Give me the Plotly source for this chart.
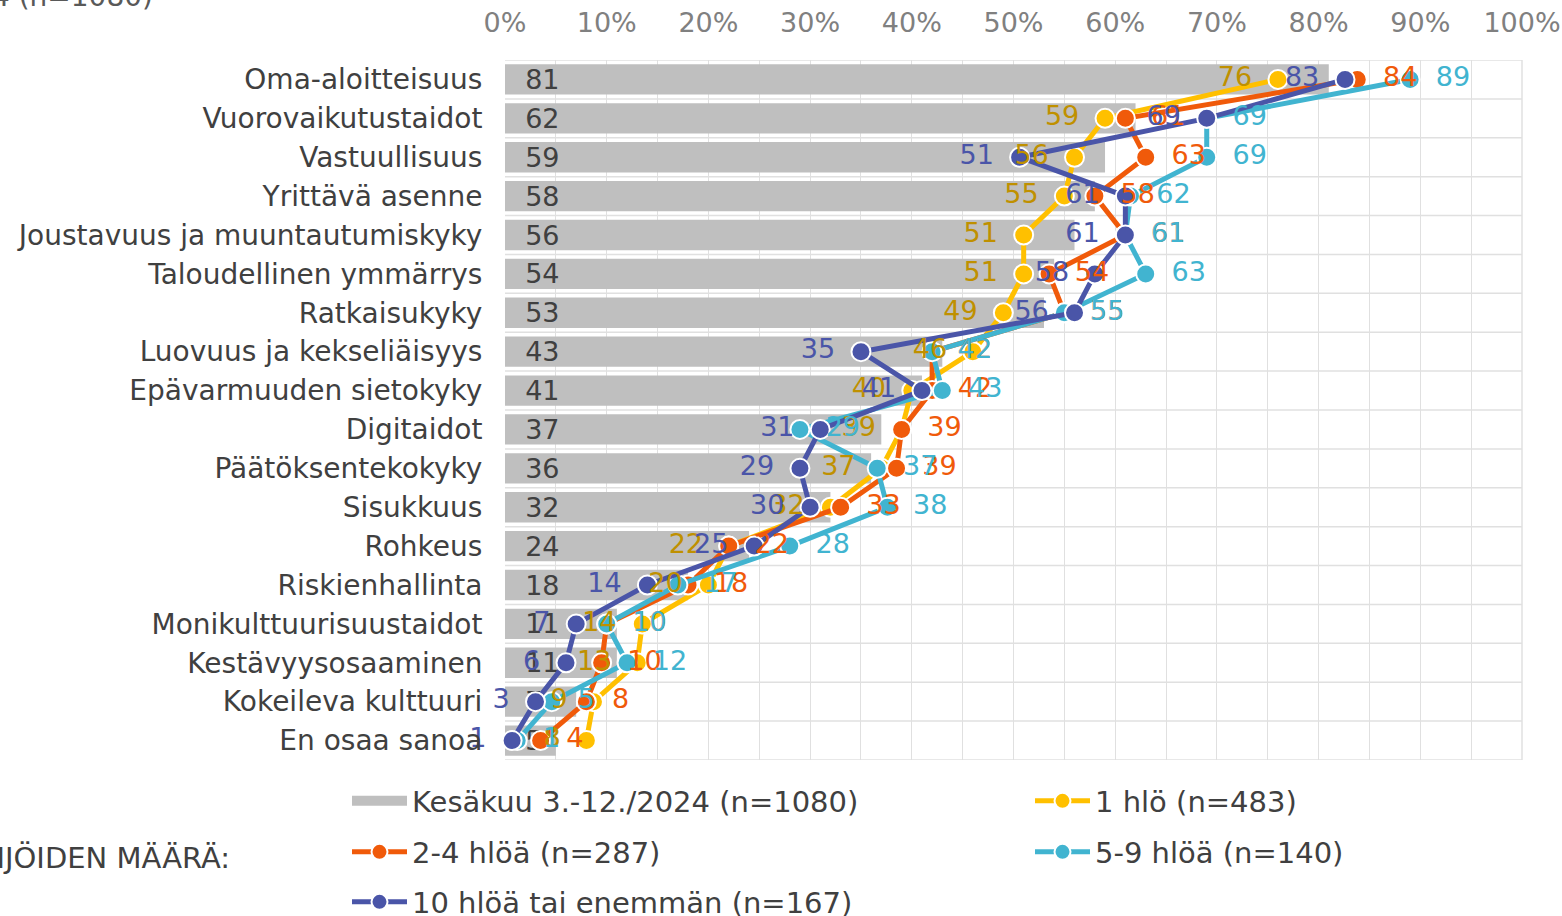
import plotly.graph_objects as go

categories = ["Oma-aloitteisuus", "Vuorovaikutustaidot", "Vastuullisuus", "Yrittävä asenne",
              "Joustavuus ja muuntautumiskyky", "Taloudellinen ymmärrys", "Ratkaisukyky",
              "Luovuus ja kekseliäisyys", "Epävarmuuden sietokyky", "Digitaidot",
              "Päätöksentekokyky", "Sisukkuus", "Rohkeus", "Riskienhallinta",
              "Monikulttuurisuustaidot", "Kestävyysosaaminen", "Kokeileva kulttuuri", "En osaa sanoa"]
total = [81, 62, 59, 58, 56, 54, 53, 43, 41, 37, 36, 32, 24, 18, 11, 11, 7, 5]
hlo1 = [76, 59, 56, 55, 51, 51, 49, 46, 40, 39, 37, 32, 22, 20, 13.5, 13, 8.7, 8]
hlo2_4 = [83.8, 61, 63, 58, 61, 53.5, 55, 42, 42, 39, 38.5, 33, 22, 18, 10, 9.5, 8, 3.5]
hlo5_9 = [89, 69, 69, 61.5, 61, 63, 55, 42, 43, 29, 36.6, 37.6, 28, 17, 10, 12, 4.6, 1.2]
hlo10 = [82.6, 69, 50.6, 61, 61, 58, 56, 35, 41, 31, 29, 30, 24.5, 14, 7, 6, 3, 0.7]

x_ticks = [0, 10, 20, 30, 40, 50, 60, 70, 80, 90, 100]
x_ticklabels = [f"{t}%" for t in x_ticks]

names = ["Kesäkuu 3.-12./2024 (n=1080)", "1 hlö (n=483)", "2-4 hlöä (n=287)",
         "5-9 hlöä (n=140)", "10 hlöä tai enemmän (n=167)"]

FONT = "DejaVu Sans"
FS = 27
NB = "\u00a0"
GRID = "#e0e0e0"

W, H = 1562, 916
PL, PR, PT, PB = 505, 1522, 60, 760  # plot area in page px


def lbl(v):
    return str(int(v + 0.5))


fig = go.Figure()
fig.add_trace(go.Bar(
    y=categories, x=total, orientation="h", name=names[0], showlegend=False,
    marker=dict(color="#bfbfbf", line=dict(width=0)),
    text=[NB * 2 + lbl(v) for v in total], textposition="inside", insidetextanchor="start",
    constraintext="none",
    textfont=dict(family=FONT, size=FS, color="#404040"), cliponaxis=False,
    hoverinfo="skip"))
# legend proxy for the bar series (rectangular swatch)
fig.add_trace(go.Scatter(
    x=[None], y=[None], mode="lines", name=names[0],
    line=dict(color="#bfbfbf", width=15), legend="legend"))

series = [
    (hlo1, names[1], "#FFC000", "#BF9000", "left", "legend2"),
    (hlo2_4, names[2], "#F05A0A", "#F05A0A", "right", "legend3"),
    (hlo5_9, names[3], "#41B4D0", "#41B4D0", "right", "legend4"),
    (hlo10, names[4], "#4A55A8", "#4A55A8", "left", "legend5"),
]
for vals, name, col, tcol, side, lg in series:
    fig.add_trace(go.Scatter(
        y=categories, x=vals, mode="lines+markers", name=name,
        line=dict(color=col, width=5),
        marker=dict(size=19, color=col, line=dict(color="white", width=2)),
        legend=lg, cliponaxis=False, hoverinfo="skip"))
for vals, name, col, tcol, side, lg in series:
    if side == "left":
        txt = [lbl(v) + NB * 3 for v in vals]
        pos = "middle left"
    else:
        txt = [NB * 3 + lbl(v) for v in vals]
        pos = "middle right"
    fig.add_trace(go.Scatter(
        y=categories, x=vals, mode="text", text=txt, textposition=pos,
        textfont=dict(family=FONT, size=FS, color=tcol), showlegend=False,
        cliponaxis=False, hoverinfo="skip"))

pw, ph = PR - PL, PB - PT


def px_x(xp):
    return (xp - PL) / pw


def px_y(yp):
    return (PB - yp) / ph


legend_common = dict(orientation="h", font=dict(family=FONT, size=29, color="#404040"),
                     bgcolor="rgba(0,0,0,0)", xanchor="left", yanchor="middle",
                     itemwidth=55, borderwidth=0)
col1, col2 = px_x(347), px_x(1030)
row1, row2, row3 = px_y(801), px_y(852), px_y(902)
fig.update_layout(
    width=W, height=H,
    margin=dict(l=PL, r=W - PR, t=PT, b=H - PB, autoexpand=False),
    paper_bgcolor="white", plot_bgcolor="white",
    barmode="overlay", bargap=0.22,
    showlegend=True,
    legend=dict(x=col1, y=row1, **legend_common),
    legend2=dict(x=col2, y=row1, **legend_common),
    legend3=dict(x=col1, y=row2, **legend_common),
    legend4=dict(x=col2, y=row2, **legend_common),
    legend5=dict(x=col1, y=row3, **legend_common),
    xaxis=dict(side="top", range=[0, 100], tickvals=x_ticks, ticktext=x_ticklabels,
               showgrid=True, gridcolor=GRID, gridwidth=1,
               minor=dict(dtick=5, showgrid=True, gridcolor=GRID),
               ticks="outside", ticklen=16, tickcolor="rgba(0,0,0,0)",
               ticklabeloverflow="allow",
               tickfont=dict(family=FONT, size=FS, color="#808080"),
               zeroline=False, showline=False, fixedrange=True),
    yaxis=dict(range=[len(categories) - 0.5, -0.5], showgrid=False,
               ticks="outside", ticklen=16, tickcolor="rgba(0,0,0,0)",
               tickfont=dict(family=FONT, size=28, color="#404040"),
               zeroline=False, showline=False, fixedrange=True),
    font=dict(family=FONT, color="#404040"),
)

# horizontal row boundary gridlines
for i in range(len(categories) + 1):
    fig.add_shape(type="line", xref="paper", yref="y", x0=0, x1=1,
                  y0=i - 0.5, y1=i - 0.5, line=dict(color=GRID, width=1.5), layer="below")
fig.add_shape(type="line", xref="paper", yref="paper", x0=1, x1=1, y0=0, y1=1,
              line=dict(color=GRID, width=1.5), layer="below")

fig.add_annotation(text="TYÖNTEKIJÖIDEN MÄÄRÄ:", xref="paper", yref="paper",
                   x=px_x(232), y=px_y(858), xanchor="right", yanchor="middle", showarrow=False,
                   font=dict(family=FONT, size=29, color="#404040"))
fig.add_annotation(text="Kesäkuu 3.-12./2024 (n=1080)", xref="paper", yref="paper",
                   x=px_x(155), y=px_y(-4), xanchor="right", yanchor="middle", showarrow=False,
                   font=dict(family=FONT, size=28, color="#595959"))

fig.write_html("out.html", config={"displayModeBar": False},
               post_script="document.body.style.margin='0px';")
